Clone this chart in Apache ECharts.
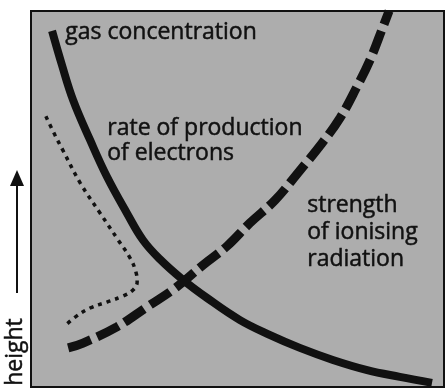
<!DOCTYPE html>
<html>
<head>
<meta charset="utf-8">
<script src="https://cdn.jsdelivr.net/npm/echarts@6/dist/echarts.min.js"></script>
<style>
  html, body { margin: 0; padding: 0; background: #ffffff; }
  #chart { width: 445px; height: 390px; }
</style>
</head>
<body>
<div id="chart"></div>
<script>
// Profiles against height (both axes in arbitrary units, 0-100)
// each point is [magnitude, height]
const gasConcentration = [
  [5.1, 94.7], [7.5, 85.6], [10.2, 76.3], [14.3, 65.7], [18.4, 55.9],
  [23.2, 46.3], [27.1, 39.1], [31.2, 34.0], [36.8, 28.5], [42.6, 23.7],
  [50.6, 17.8], [57.9, 13.8], [65.1, 10.4], [73.1, 7.2], [81.4, 4.5],
  [89.3, 2.7], [97.1, 1.1]
];
const radiationStrength = [
  [9.0, 10.4], [12.6, 11.7], [20.8, 16.0], [28.1, 21.3], [34.9, 26.3],
  [41.6, 32.4], [47.5, 37.5], [53.0, 43.6], [59.1, 49.7], [64.6, 56.9],
  [70.5, 64.9], [74.8, 71.5], [78.9, 79.8], [82.1, 87.0], [85.2, 95.7],
  [86.7, 100]
];
const electronProduction = [
  [3.6, 72.0], [5.8, 67.0], [7.7, 63.0], [11.9, 54.3], [16.7, 46.3],
  [21.1, 39.1], [24.0, 34.3], [25.4, 30.6], [25.7, 27.9], [24.7, 25.8],
  [22.3, 24.2], [18.4, 22.6], [14.3, 21.0], [10.7, 18.6], [8.0, 16.0]
];

const seriesNames = ['gas concentration', 'strength of ionising radiation', 'rate of production of electrons'];
const axisTitle = 'height';

const ink = '#111111';
const textFont = '23px "Open Sans", sans-serif';
// thin outline to give the lettering a slightly heavier stroke
const textStyleBase = { font: textFont, fill: ink, stroke: ink, lineWidth: 0.5 };

const chart = echarts.init(document.getElementById('chart'), null, { renderer: 'canvas' });

chart.setOption({
  animation: false,
  backgroundColor: '#ffffff',
  grid: {
    left: 31, right: 1, top: 11, bottom: 3,
    show: true,
    backgroundColor: '#adadad',
    borderColor: ink,
    borderWidth: 2
  },
  xAxis: {
    type: 'value', min: 0, max: 100,
    axisLine: { show: false }, axisTick: { show: false },
    axisLabel: { show: false }, splitLine: { show: false }
  },
  yAxis: {
    type: 'value', min: 0, max: 100,
    axisLine: { show: false }, axisTick: { show: false },
    axisLabel: { show: false }, splitLine: { show: false }
  },
  series: [
    {
      name: seriesNames[0], type: 'line', data: gasConcentration,
      smooth: 0.4, showSymbol: false, clip: true,
      lineStyle: { color: ink, width: 8, cap: 'butt' }
    },
    {
      name: seriesNames[1], type: 'line', data: radiationStrength,
      smooth: 0.4, showSymbol: false, clip: true,
      lineStyle: { color: ink, width: 9, type: [24, 7], cap: 'butt' }
    },
    {
      name: seriesNames[2], type: 'line', data: electronProduction,
      smooth: 0.4, showSymbol: false, clip: true,
      lineStyle: { color: ink, width: 3.5, type: [4, 5], cap: 'butt' }
    }
  ],
  graphic: [
    {
      type: 'text', left: 65, top: 21,
      style: Object.assign({ text: 'gas concentration', lineHeight: 23 }, textStyleBase)
    },
    {
      type: 'text', left: 107, top: 116,
      style: Object.assign({ text: 'rate of production\nof electrons', lineHeight: 25 }, textStyleBase)
    },
    {
      type: 'text', left: 307, top: 192,
      style: Object.assign({ text: 'strength\nof ionising\nradiation', lineHeight: 27 }, textStyleBase)
    },
    {
      type: 'text', x: 15, y: 352, rotation: Math.PI / 2,
      style: { text: axisTitle, font: '23px "Open Sans", sans-serif', fill: ink,
               stroke: ink, lineWidth: 0.5, align: 'center', verticalAlign: 'middle' }
    },
    {
      type: 'line', shape: { x1: 17, y1: 293, x2: 17, y2: 184 },
      style: { stroke: ink, lineWidth: 2 }
    },
    {
      type: 'polygon', shape: { points: [[17, 170], [10, 186], [24, 186]] },
      style: { fill: ink }
    }
  ]
});
</script>
</body>
</html>
